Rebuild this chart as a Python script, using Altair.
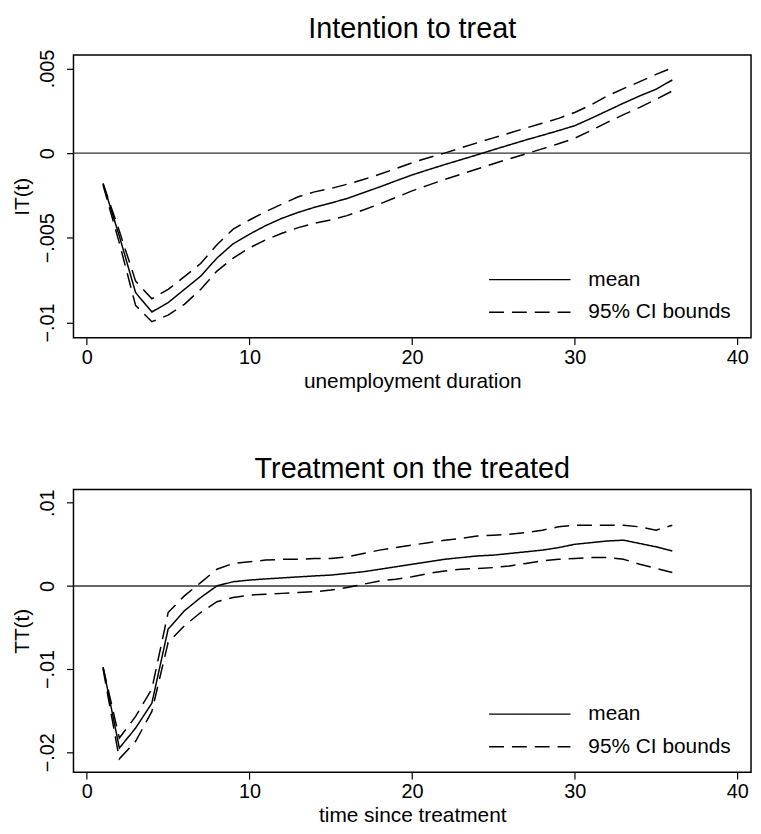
import altair as alt
import pandas as pd

FONT = "Liberation Sans"

x_vals = list(range(1, 37))
x_ticks = [0, 10, 20, 30, 40]

it_mean = [-0.0018, -0.0049, -0.00824, -0.00938, -0.00883, -0.00805, -0.00727, -0.0062,
           -0.00535, -0.00479, -0.00428, -0.00385, -0.0035, -0.0032, -0.00295, -0.00268,
           -0.00234, -0.002, -0.00164, -0.00129, -0.00098, -0.00068, -0.00039, -0.0001,
           0.0002, 0.00049, 0.00078, 0.00105, 0.00133, 0.00162, 0.00205, 0.0025,
           0.00295, 0.00338, 0.00377, 0.00432]
it_upper = [-0.0018, -0.0046, -0.00756, -0.0086, -0.00805, -0.0073, -0.00652, -0.00541,
            -0.00449, -0.00395, -0.00346, -0.00301, -0.00258, -0.00229, -0.00209, -0.00184,
            -0.00156, -0.00125, -0.00092, -0.00057, -0.00027, 0.0, 0.00031, 0.00061,
            0.0009, 0.00119, 0.00148, 0.00176, 0.00205, 0.0024, 0.00285, 0.00338,
            0.00381, 0.00422, 0.00465, 0.00504]
it_lower = [-0.0019, -0.0053, -0.009, -0.00996, -0.00957, -0.00893, -0.00805, -0.00697,
            -0.0062, -0.0056, -0.00512, -0.00473, -0.0044, -0.00414, -0.00395, -0.00369,
            -0.00336, -0.00301, -0.00262, -0.00223, -0.00189, -0.00156, -0.00125, -0.00094,
            -0.00063, -0.00033, -0.00004, 0.00025, 0.00055, 0.00088, 0.00133, 0.00182,
            0.00227, 0.0027, 0.00318, 0.00367]

tt_mean = [-0.00976, -0.0195, -0.0171, -0.0141, -0.0052, -0.003, -0.0014, 0.0,
           0.0005, 0.0007, 0.00084, 0.00096, 0.00108, 0.0012, 0.0013, 0.0015,
           0.0017, 0.002, 0.0023, 0.0026, 0.0029, 0.0032, 0.0034, 0.0036,
           0.0037, 0.0039, 0.0041, 0.0043, 0.0046, 0.005, 0.0052, 0.0054,
           0.0055, 0.0051, 0.0047, 0.0042]
tt_upper = [-0.0098, -0.0183, -0.0157, -0.0124, -0.0032, -0.0012, 0.0004, 0.002,
            0.0027, 0.0029, 0.0031, 0.0032, 0.0032, 0.0033, 0.0033, 0.0035,
            0.0039, 0.0043, 0.0046, 0.0049, 0.0052, 0.0055, 0.0057, 0.006,
            0.0061, 0.0062, 0.0064, 0.0067, 0.0071, 0.0073, 0.0073, 0.0073,
            0.0073, 0.0071, 0.0067, 0.0073]
tt_lower = [-0.01, -0.0208, -0.0187, -0.0151, -0.0068, -0.0048, -0.0032, -0.0019,
            -0.0014, -0.0011, -0.001, -0.0009, -0.0008, -0.0007, -0.0005, -0.0002,
            0.0002, 0.0006, 0.0008, 0.0011, 0.0015, 0.0018, 0.002, 0.0021,
            0.0022, 0.0024, 0.0027, 0.003, 0.0032, 0.0033, 0.0034, 0.0034,
            0.0032, 0.0026, 0.0021, 0.0016]

it_yticks = [-0.01, -0.005, 0, 0.005]
tt_yticks = [-0.02, -0.01, 0, 0.01]
it_ydomain = [-0.0109, 0.0058]
tt_ydomain = [-0.0224, 0.0116]
x_domain = [-0.82, 40.84]
zero_line = [0]

legend_labels = ["mean", "95% CI bounds"]


def long_df(mean, lower, upper):
    rows = []
    for name, vals, kind in [("mean", mean, "mean"),
                             ("lower", lower, "95% CI bounds"),
                             ("upper", upper, "95% CI bounds")]:
        for xv, v in zip(x_vals, vals):
            rows.append({"x": xv, "v": v, "series": name, "kind": kind})
    return pd.DataFrame(rows)


LABEL_EXPR = "datum.value == 0 ? '0' : replace(format(datum.value, '~g'), '0.', '.')"


def panel(df, title, ytitle, xtitle, ydomain, yticks):
    xenc = alt.X("x:Q", scale=alt.Scale(domain=x_domain, nice=False, zero=False),
                 axis=alt.Axis(values=x_ticks, title=xtitle, labelPadding=3,
                               titlePadding=3))
    yenc = alt.Y("v:Q", scale=alt.Scale(domain=ydomain, nice=False, zero=False),
                 axis=alt.Axis(values=yticks, title=ytitle, labelAngle=270,
                               labelAlign="center", labelBaseline="alphabetic",
                               labelPadding=13, titlePadding=5,
                               labelExpr=LABEL_EXPR))
    lines = alt.Chart(df).mark_line(color="black", strokeWidth=1.5).encode(
        x=xenc,
        y=yenc,
        strokeDash=alt.StrokeDash(
            "kind:N",
            scale=alt.Scale(domain=legend_labels, range=[[1, 0], [15, 8]]),
            legend=alt.Legend(orient="none", legendX=418, legendY=210, title=None,
                              symbolType="stroke", symbolSize=6724,
                              symbolStrokeWidth=1.5, symbolStrokeColor="black",
                              labelFont=FONT, labelFontSize=21, labelColor="black",
                              labelOffset=17, clipHeight=33, padding=0, rowPadding=0)),
        detail="series:N",
    )
    zero = alt.Chart(pd.DataFrame({"v": zero_line})).mark_rule(
        color="#333333", strokeWidth=1.5).encode(y=yenc)
    return alt.layer(zero, lines).properties(
        width=683, height=285,
        title=alt.TitleParams(title, font=FONT, fontSize=29, fontWeight="normal",
                              anchor="middle", frame="group", offset=5, color="black"))


top = panel(long_df(it_mean, it_lower, it_upper), "Intention to treat", "IT(t)",
            "unemployment duration", it_ydomain, it_yticks)
bottom = panel(long_df(tt_mean, tt_lower, tt_upper), "Treatment on the treated", "TT(t)",
               "time since treatment", tt_ydomain, tt_yticks)

chart = alt.vconcat(top, bottom, spacing=62).resolve_scale(
    strokeDash="independent").resolve_legend(strokeDash="independent").properties(
    padding={"left": 3, "top": 3, "right": 0, "bottom": 0},
    background="white"
).configure_view(stroke="black", strokeWidth=1.5).configure_axis(
    domain=False, grid=False, tickColor="black", tickSize=7, tickWidth=1.2,
    labelFont=FONT, labelFontSize=20, labelColor="black",
    titleFont=FONT, titleFontSize=21, titleFontWeight="normal", titleColor="black"
)

chart.save("out.html", embed_options={"renderer": "svg", "actions": False})
